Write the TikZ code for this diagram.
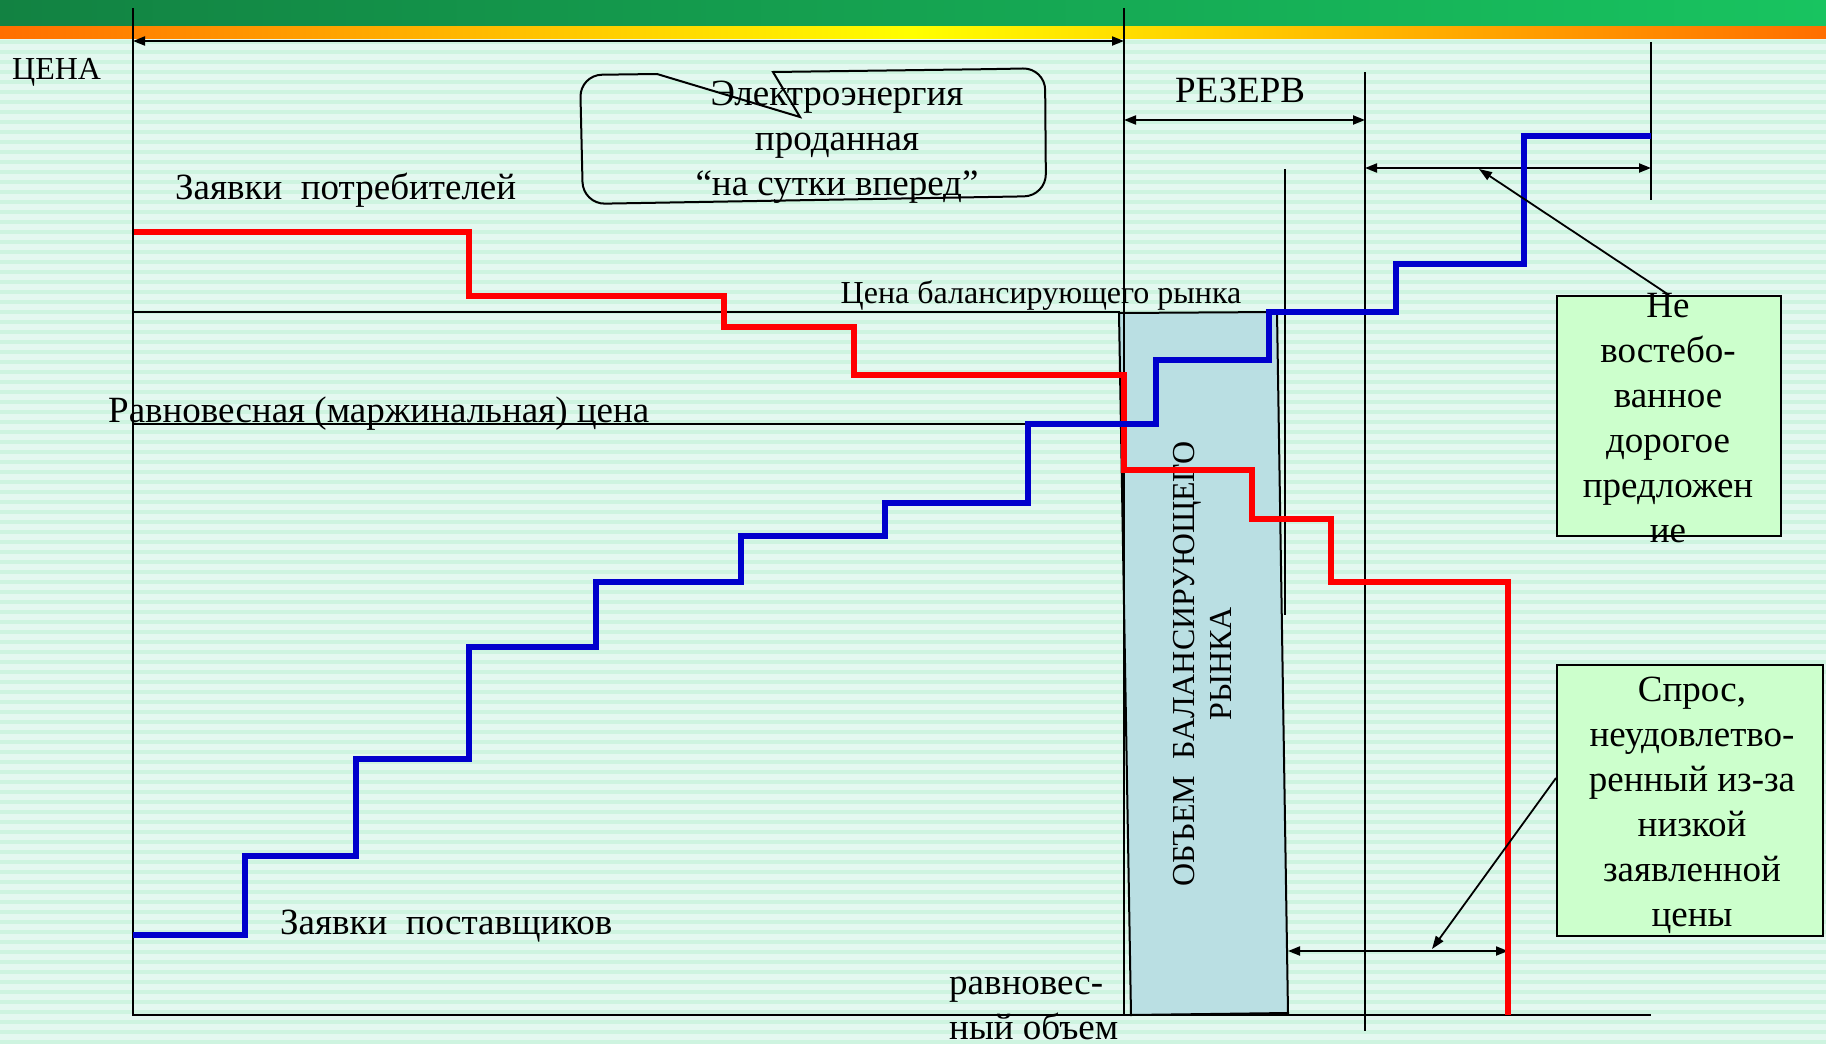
\documentclass[tikz,border=0pt]{standalone}
\usepackage{fontspec}
\setmainfont{Liberation Serif}
\usetikzlibrary{arrows.meta}
\definecolor{bgA}{RGB}{228,248,240}
\definecolor{bgB}{RGB}{206,244,224}
\definecolor{gDark}{RGB}{18,130,66}
\definecolor{gLight}{RGB}{24,196,96}
\definecolor{bandO}{RGB}{255,110,0}
\definecolor{bandY}{RGB}{255,255,0}
\definecolor{balFill}{RGB}{186,223,227}
\definecolor{noteFill}{RGB}{204,255,204}
\definecolor{supBlue}{RGB}{0,0,204}
\begin{document}
\begin{tikzpicture}[x=1pt,y=-1pt,
  txt/.style={font=\fontsize{37}{45}\selectfont, inner sep=0pt, align=center},
  smalltxt/.style={font=\fontsize{32}{38}\selectfont, inner sep=0pt},
  axisline/.style={line width=2pt},
  guide/.style={line width=1.4pt},
  dim/.style={line width=2pt, {Triangle[length=12pt,width=9pt]}-{Triangle[length=12pt,width=9pt]}},
  pointer/.style={line width=1.8pt, -{Triangle[length=13pt,width=9pt]}},
  demand/.style={line width=6.5pt, red},
  supply/.style={line width=6.5pt, supBlue},
  note/.style={draw, line width=2pt, fill=noteFill, inner sep=0pt}]
\useasboundingbox (0,0) rectangle (1826,1044);
% background
\fill[bgA] (0,0) rectangle (1826,1044);
\foreach \i in {0,...,100} \fill[bgB] (0,{40+10*\i}) rectangle (1826,{44+10*\i});
\shade[left color=gDark, right color=gLight] (0,0) rectangle (1826,26);
\shade[left color=bandO, right color=bandO, middle color=bandY] (0,26) rectangle (1826,38);

% coordinates
\coordinate (ytop) at (133,8);
\coordinate (orig) at (133,1015);
\coordinate (xend) at (1651,1015);
\coordinate (v1t) at (1124,8);
\coordinate (v1b) at (1124,1015);
\coordinate (v2t) at (1365,72);
\coordinate (v2b) at (1365,1031);
\coordinate (v3t) at (1651,42);
\coordinate (v3b) at (1651,200);
\coordinate (v4t) at (1285,169);
\coordinate (v4b) at (1285,615);
\coordinate (topL) at (133,41);
\coordinate (topR) at (1124,41);
\coordinate (resL) at (1124,120);
\coordinate (resR) at (1365,120);
\coordinate (ncL) at (1365,168);
\coordinate (ncR) at (1651,168);
\coordinate (ncTip) at (1479,169);
\coordinate (unL) at (1288,951);
\coordinate (unR) at (1508,951);
\coordinate (unTip) at (1432,949);
\coordinate (balL) at (133,312);
\coordinate (balR) at (1120,312);
\coordinate (eqL) at (133,424);
\coordinate (eqR) at (1028,424);

% balancing market volume box
\draw[fill=balFill, line width=2pt] (1119,313) -- (1277,312) -- (1288,1013) -- (1131,1015) -- cycle;
\node[rotate=90, align=center, font=\fontsize{32}{37}\selectfont, inner sep=0pt] (balvol) at (1202,664)
  {ОБЪЕМ~ БАЛАНСИРУЮЩЕГО\\РЫНКА};

% axes and guides
\draw[axisline] (ytop) -- (orig) -- (xend);
\draw[guide] (v1t) -- (v1b);
\draw[guide] (v2t) -- (v2b);
\draw[guide] (v3t) -- (v3b);
\draw[guide] (v4t) -- (v4b);
\draw[guide] (balL) -- (balR);
\draw[guide] (eqL) -- (eqR);

% dimension arrows
\draw[dim] (topL) -- (topR);
\draw[dim] (resL) -- (resR);
\draw[dim] (ncL) -- (ncR);
\draw[dim] (unL) -- (unR);

% curves
\draw[demand] (134,232) -| (469,296) -| (724,327) -| (854,375) -| (1124,470) -| (1252,519) -| (1331,582) -| (1508,1015);
\draw[supply] (133,935) -| (245,856) -| (356,759) -| (469,647) -| (596,582) -| (741,536) -| (885,503) -| (1028,424) -| (1156,360) -| (1269,312) -| (1396,264) -| (1524,136) -- (1651,136);

% callout
\draw[line width=2pt] (657,74) [rounded corners=22pt] -- (580,75) -- (583,204) -- (1046,196) -- (1045,68) -- (1000,69) [sharp corners] -- (773,72) -- (800,117) -- cycle;
\node[txt] (sold) at (837,142) {Электроэнергия\\проданная\\“на сутки вперед”};

% labels
\node[smalltxt, anchor=west] (price) at (12,72) {ЦЕНА};
\node[txt, anchor=west] (cons) at (175,190) {Заявки~ потребителей};
\node[txt, anchor=west] (supp) at (280,926) {Заявки~ поставщиков};
\node[txt, anchor=west] (eqlab) at (108,414) {Равновесная (маржинальная) цена};
\node[smalltxt] (ballab) at (1041,295) {Цена балансирующего рынка};
\node[txt] (reserve) at (1240,90) {РЕЗЕРВ};
\node[txt, align=left, anchor=north west] (eqvol) at (949,977) {равновес-\\ный объем};

% notes
\node[note, minimum width=224pt, minimum height=240pt] (nebox) at (1669,416) {};
\node[txt] (netext) at (1668,418) {Не\\востебо-\\ванное\\дорогое\\предложен\\ие};
\node[note, minimum width=266pt, minimum height=271pt] (spros) at (1690,800) {};
\node[txt] (sprostext) at (1692,805) {Спрос,\\неудовлетво-\\ренный из-за\\низкой\\заявленной\\цены};

\draw[pointer] (nebox.north) -- (ncTip);
\draw[pointer] ([yshift=22pt]spros.west) -- (unTip);
\end{tikzpicture}
\end{document}
